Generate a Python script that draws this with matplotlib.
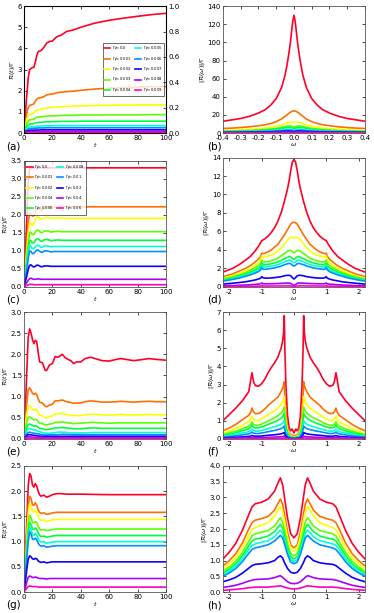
import matplotlib
matplotlib.use("Agg")
import matplotlib.pyplot as plt
import numpy as np

plt.rcParams["axes.unicode_minus"] = False

# colours of the ten curves (red -> magenta)
colors = plt.cm.gist_rainbow(np.linspace(0, 1, 10))

labels_a = ["0.0", "0.001", "0.002", "0.003", "0.004",
            "0.005", "0.006", "0.007", "0.008", "0.009"]
labels_c = ["0.0", "0.001", "0.002", "0.004", "0.006",
            "0.008", "0.01", "0.02", "0.04", "0.06"]

# ---------------- panel (a) : R(t)/Gamma ----------------
a_t = [0, 1, 2, 3, 4, 5, 6, 7, 8, 9, 10, 12, 14, 16, 18, 20, 23, 26, 30, 35,
       40, 50, 60, 70, 80, 90, 100]
a_vals = [
    [0, 0.9, 1.8, 2.6, 3.0, 3.05, 3.1, 3.1, 3.35, 3.65, 3.85, 3.9, 4.05, 4.25, 4.33, 4.35, 4.55, 4.62, 4.8, 4.88,
     5.0, 5.2, 5.33, 5.43, 5.52, 5.6, 5.66],
    [0, 0.5, 0.95, 1.2, 1.3, 1.33, 1.35, 1.38, 1.5, 1.6, 1.65, 1.67, 1.72, 1.8, 1.83, 1.84, 1.9, 1.93, 1.96, 1.98,
     2.02, 2.08, 2.12, 2.15, 2.17, 2.19, 2.2],
    [0, 0.35, 0.65, 0.82, 0.88, 0.9, 0.92, 0.95, 1.03, 1.08, 1.1, 1.12, 1.15, 1.18, 1.2, 1.21, 1.23, 1.24, 1.26, 1.27,
     1.28, 1.3, 1.31, 1.32, 1.33, 1.33, 1.34],
    [0, 0.25, 0.45, 0.57, 0.62, 0.63, 0.64, 0.66, 0.71, 0.74, 0.76, 0.77, 0.78, 0.8, 0.81, 0.81, 0.82, 0.83, 0.84, 0.84,
     0.85, 0.85, 0.86, 0.86, 0.86, 0.87, 0.87],
    [0, 0.17, 0.3, 0.38, 0.42, 0.43, 0.43, 0.44, 0.47, 0.49, 0.5, 0.51, 0.52, 0.53, 0.53, 0.54, 0.54, 0.55, 0.55, 0.55,
     0.56, 0.56, 0.56, 0.56, 0.56, 0.56, 0.56],
    [0, 0.11, 0.2, 0.25, 0.28, 0.29, 0.29, 0.3, 0.31, 0.32, 0.33, 0.33, 0.34, 0.34, 0.34, 0.35, 0.35, 0.35, 0.35, 0.35,
     0.35, 0.35, 0.35, 0.35, 0.35, 0.35, 0.35],
    [0, 0.08, 0.14, 0.18, 0.2, 0.21, 0.21, 0.22, 0.23, 0.23, 0.24, 0.24, 0.24, 0.25, 0.25, 0.25, 0.25, 0.25, 0.25, 0.25,
     0.25, 0.25, 0.25, 0.25, 0.25, 0.25, 0.25],
    [0, 0.05, 0.09, 0.11, 0.12, 0.13, 0.13, 0.13, 0.14, 0.14, 0.14, 0.15, 0.15, 0.15, 0.15, 0.15, 0.15, 0.15, 0.15, 0.15,
     0.15, 0.15, 0.15, 0.15, 0.15, 0.15, 0.15],
    [0, 0.03, 0.05, 0.06, 0.07, 0.07, 0.07, 0.07, 0.08, 0.08, 0.08, 0.08, 0.08, 0.08, 0.08, 0.08, 0.08, 0.08, 0.08, 0.08,
     0.08, 0.08, 0.08, 0.08, 0.08, 0.08, 0.08],
    [0, 0.01, 0.02, 0.03, 0.03, 0.03, 0.03, 0.03, 0.03, 0.03, 0.03, 0.03, 0.03, 0.03, 0.03, 0.03, 0.03, 0.03, 0.03, 0.03,
     0.03, 0.03, 0.03, 0.03, 0.03, 0.03, 0.03],
]

# ---------------- panel (b) : |R(w)|/Gamma (w >= 0 half, symmetric) ----------------
b_w = [0, 0.005, 0.01, 0.02, 0.03, 0.04, 0.05, 0.07, 0.1, 0.13, 0.16, 0.2, 0.25, 0.3, 0.35, 0.4]
b_vals = [
    [130, 125, 118, 100, 86, 74, 64, 50, 38, 31, 26, 22, 18.5, 16, 14.5, 13],
    [24.5, 24.3, 24, 23, 21.5, 20, 18.5, 15.5, 12.5, 10.5, 9.2, 8, 6.9, 6, 5.4, 5],
    [11.5, 11.8, 12, 12, 11.5, 11, 10.3, 9, 7.5, 6.5, 5.6, 4.8, 4.1, 3.6, 3.2, 2.9],
    [6.5, 6.8, 7.2, 7.8, 7.8, 7.5, 7.1, 6.3, 5.2, 4.5, 3.9, 3.3, 2.8, 2.5, 2.2, 2.0],
    [5.0, 5.3, 5.7, 6.2, 6.3, 6.1, 5.8, 5.1, 4.3, 3.7, 3.2, 2.8, 2.3, 2.0, 1.8, 1.6],
    [3.3, 3.5, 3.8, 4.2, 4.3, 4.2, 4.0, 3.6, 3.1, 2.7, 2.3, 2.0, 1.7, 1.5, 1.35, 1.2],
    [2.3, 2.4, 2.6, 2.9, 3.0, 2.9, 2.8, 2.5, 2.2, 1.9, 1.7, 1.5, 1.3, 1.1, 1.0, 0.9],
    [1.5, 1.6, 1.7, 1.9, 2.0, 1.95, 1.9, 1.7, 1.5, 1.3, 1.15, 1.0, 0.9, 0.8, 0.7, 0.6],
    [0.8, 0.85, 0.9, 1.0, 1.05, 1.0, 1.0, 0.9, 0.8, 0.7, 0.6, 0.55, 0.5, 0.45, 0.4, 0.35],
    [0.3, 0.32, 0.35, 0.4, 0.42, 0.4, 0.4, 0.36, 0.32, 0.28, 0.25, 0.22, 0.2, 0.18, 0.16, 0.15],
]

# ---------------- panel (c) ----------------
c_t = [0, 1, 2, 3, 4, 5, 6, 7, 8, 9, 10, 11, 12, 13, 14, 15, 17, 19, 21, 24, 27, 30, 40, 60, 80, 100]
c_vals = [
    [0, 0.9, 1.9, 2.9, 3.3, 3.3, 3.3, 3.3, 3.3, 3.3, 3.3, 3.3, 3.3, 3.3, 3.3, 3.3, 3.3, 3.3, 3.3, 3.3,
     3.3, 3.3, 3.3, 3.3, 3.3, 3.3],
    [0, 0.6, 1.2, 1.8, 2.05, 2.02, 1.96, 1.97, 2.08, 2.15, 2.17, 2.15, 2.12, 2.14, 2.18, 2.2, 2.22, 2.2, 2.21, 2.22,
     2.22, 2.22, 2.22, 2.22, 2.22, 2.22],
    [0, 0.5, 1.0, 1.5, 1.78, 1.75, 1.7, 1.75, 1.88, 1.94, 1.93, 1.9, 1.87, 1.88, 1.91, 1.92, 1.92, 1.9, 1.9, 1.91,
     1.9, 1.9, 1.9, 1.9, 1.9, 1.9],
    [0, 0.4, 0.8, 1.2, 1.52, 1.5, 1.45, 1.45, 1.52, 1.57, 1.57, 1.54, 1.5, 1.51, 1.54, 1.55, 1.55, 1.52, 1.53, 1.54,
     1.53, 1.53, 1.53, 1.53, 1.53, 1.53],
    [0, 0.33, 0.67, 1.0, 1.3, 1.28, 1.22, 1.22, 1.28, 1.33, 1.33, 1.3, 1.26, 1.27, 1.3, 1.31, 1.31, 1.28, 1.29, 1.3,
     1.29, 1.29, 1.29, 1.29, 1.29, 1.29],
    [0, 0.3, 0.6, 0.9, 1.14, 1.12, 1.06, 1.06, 1.11, 1.15, 1.15, 1.13, 1.09, 1.1, 1.13, 1.14, 1.13, 1.11, 1.12, 1.12,
     1.12, 1.12, 1.12, 1.12, 1.12, 1.12],
    [0, 0.25, 0.5, 0.78, 1.0, 0.98, 0.92, 0.93, 0.98, 1.02, 1.02, 0.99, 0.96, 0.96, 0.99, 1.0, 0.99, 0.97, 0.98, 0.98,
     0.98, 0.98, 0.98, 0.98, 0.98, 0.98],
    [0, 0.15, 0.3, 0.48, 0.6, 0.61, 0.57, 0.55, 0.57, 0.6, 0.6, 0.58, 0.56, 0.56, 0.58, 0.58, 0.58, 0.57, 0.57, 0.57,
     0.57, 0.57, 0.57, 0.57, 0.57, 0.57],
    [0, 0.06, 0.12, 0.18, 0.23, 0.24, 0.22, 0.21, 0.21, 0.22, 0.22, 0.22, 0.21, 0.21, 0.21, 0.21, 0.21, 0.21, 0.21, 0.21,
     0.21, 0.21, 0.21, 0.21, 0.21, 0.21],
    [0, 0.02, 0.04, 0.05, 0.07, 0.07, 0.07, 0.06, 0.06, 0.06, 0.06, 0.06, 0.06, 0.06, 0.06, 0.06, 0.06, 0.06, 0.06, 0.06,
     0.06, 0.06, 0.06, 0.06, 0.06, 0.06],
]

# ---------------- panel (d) (w >= 0 half) ----------------
d_w = [0, 0.05, 0.1, 0.15, 0.2, 0.3, 0.4, 0.5, 0.6, 0.7, 0.8, 0.9, 0.95, 1.0, 1.03, 1.1, 1.2, 1.35, 1.5, 1.7,
       1.9, 2.2]
d_vals = [
    [13.8, 13.5, 12.6, 11.5, 10.6, 9.2, 8.0, 7.1, 6.4, 5.9, 5.5, 5.2, 5.1, 5.0, 4.8, 4.4, 3.9, 3.3, 2.9, 2.4, 2.0, 1.6],
    [7.0, 6.95, 6.8, 6.5, 6.2, 5.6, 5.1, 4.6, 4.3, 4.0, 3.8, 3.65, 3.6, 3.65, 3.3, 3.0, 2.7, 2.3, 2.0, 1.7, 1.4, 1.1],
    [5.3, 5.35, 5.35, 5.3, 5.1, 4.6, 4.2, 3.9, 3.6, 3.45, 3.35, 3.25, 3.2, 3.35, 2.9, 2.6, 2.35, 2.0, 1.75, 1.45, 1.2, 0.95],
    [3.7, 3.8, 3.95, 3.95, 3.85, 3.6, 3.35, 3.1, 2.95, 2.85, 2.75, 2.7, 2.7, 2.9, 2.55, 2.3, 2.1, 1.8, 1.55, 1.3, 1.1, 0.85],
    [3.0, 3.1, 3.25, 3.3, 3.2, 3.05, 2.85, 2.7, 2.6, 2.5, 2.45, 2.4, 2.4, 2.6, 2.3, 2.05, 1.85, 1.6, 1.4, 1.15, 0.95, 0.75],
    [2.6, 2.7, 2.85, 2.9, 2.85, 2.7, 2.55, 2.4, 2.3, 2.25, 2.2, 2.15, 2.15, 2.35, 2.05, 1.85, 1.65, 1.45, 1.25, 1.05, 0.85, 0.68],
    [2.25, 2.35, 2.5, 2.55, 2.5, 2.4, 2.25, 2.15, 2.05, 2.0, 1.95, 1.9, 1.9, 2.1, 1.85, 1.65, 1.5, 1.3, 1.15, 0.95, 0.8, 0.62],
    [0.85, 1.0, 1.2, 1.25, 1.25, 1.2, 1.1, 1.05, 1.0, 0.97, 0.95, 0.95, 0.98, 1.1, 0.95, 0.85, 0.75, 0.65, 0.55, 0.47, 0.4, 0.3],
    [0.15, 0.25, 0.38, 0.42, 0.42, 0.4, 0.38, 0.36, 0.35, 0.34, 0.33, 0.33, 0.35, 0.42, 0.33, 0.3, 0.27, 0.23, 0.2, 0.17, 0.14, 0.12],
    [0.05, 0.07, 0.1, 0.11, 0.11, 0.11, 0.1, 0.1, 0.1, 0.1, 0.09, 0.09, 0.1, 0.11, 0.09, 0.08, 0.07, 0.06, 0.06, 0.05, 0.04, 0.04],
]

# ---------------- panel (e) ----------------
e_t = [0, 1, 2, 3, 4, 5, 6, 7, 8, 9, 10, 11, 13, 15, 16, 18, 20, 22, 24, 27,
       29, 31, 33, 35, 37, 40, 43, 47, 50, 55, 60, 65, 68, 72, 77, 82, 88, 93, 100]
e_t_low = [0, 1, 2, 3, 4, 6, 8, 10, 13, 16, 20, 24, 27, 35, 50, 100]
e_vals = [
    [0, 0.7, 1.6, 2.4, 2.6, 2.5, 2.35, 2.25, 2.33, 2.3, 2.05, 1.82, 1.8, 1.62, 1.62, 1.75, 1.78, 1.95, 1.93, 2.0,
     1.92, 1.88, 1.85, 1.78, 1.82, 1.82, 1.9, 1.93, 1.9, 1.85, 1.84, 1.88, 1.9, 1.88, 1.85, 1.87, 1.9, 1.88, 1.86],
    [0, 0.4, 0.85, 1.15, 1.21, 1.15, 1.08, 1.05, 1.08, 1.05, 0.95, 0.87, 0.85, 0.77, 0.76, 0.8, 0.82, 0.9, 0.9, 0.92,
     0.89, 0.87, 0.86, 0.84, 0.85, 0.85, 0.88, 0.9, 0.89, 0.87, 0.87, 0.88, 0.89, 0.88, 0.87, 0.88, 0.89, 0.88, 0.88],
    [0, 0.3, 0.6, 0.75, 0.79, 0.75, 0.7, 0.68, 0.7, 0.68, 0.62, 0.56, 0.55, 0.5, 0.5, 0.53, 0.54, 0.59, 0.59, 0.6,
     0.58, 0.57, 0.56, 0.55, 0.55, 0.55, 0.57, 0.58, 0.58, 0.57, 0.56, 0.57, 0.58, 0.57, 0.57, 0.57, 0.58, 0.57, 0.57],
    [0, 0.2, 0.4, 0.5, 0.52, 0.5, 0.47, 0.45, 0.46, 0.45, 0.41, 0.37, 0.36, 0.33, 0.33, 0.35, 0.36, 0.39, 0.39, 0.4,
     0.39, 0.38, 0.37, 0.36, 0.37, 0.37, 0.38, 0.39, 0.39, 0.38, 0.37, 0.38, 0.38, 0.38, 0.38, 0.38, 0.38, 0.38, 0.38],
    [0, 0.14, 0.27, 0.34, 0.35, 0.34, 0.32, 0.3, 0.31, 0.3, 0.28, 0.25, 0.24, 0.22, 0.22, 0.23, 0.24, 0.26, 0.26, 0.27,
     0.26, 0.25, 0.25, 0.24, 0.24, 0.24, 0.25, 0.26, 0.26, 0.25, 0.25, 0.25, 0.25, 0.25, 0.25, 0.25, 0.25, 0.25, 0.25],
    [0, 0.1, 0.19, 0.24, 0.25, 0.22, 0.21, 0.18, 0.15, 0.13, 0.14, 0.16, 0.16, 0.14, 0.15, 0.15],
    [0, 0.06, 0.12, 0.15, 0.16, 0.14, 0.13, 0.12, 0.1, 0.09, 0.1, 0.1, 0.11, 0.1, 0.1, 0.1],
    [0, 0.04, 0.08, 0.1, 0.1, 0.09, 0.08, 0.07, 0.06, 0.06, 0.06, 0.06, 0.06, 0.06, 0.06, 0.06],
    [0, 0.02, 0.04, 0.05, 0.05, 0.04, 0.04, 0.04, 0.03, 0.03, 0.03, 0.03, 0.03, 0.03, 0.03, 0.03],
    [0, 0.01, 0.02, 0.02, 0.02, 0.02, 0.02, 0.01, 0.01, 0.01, 0.01, 0.01, 0.01, 0.01, 0.01, 0.01],
]

# ---------------- panel (f) (w >= 0 half) ----------------
f_w = [0, 0.03, 0.06, 0.1, 0.15, 0.2, 0.25, 0.28, 0.3, 0.32, 0.35, 0.4, 0.5, 0.6, 0.7, 0.8, 0.9, 1.0, 1.1, 1.2,
       1.25, 1.3, 1.33, 1.4, 1.5, 1.6, 1.8, 2.0, 2.2]
f_vals = [
    [0.33, 0.45, 0.55, 0.45, 0.6, 1.3, 3.0, 4.8, 6.8, 5.9, 5.4, 5.0, 4.5, 4.2, 3.95, 3.65, 3.3, 3.05, 2.9, 2.95,
     3.15, 3.65, 3.35, 2.6, 2.35, 2.1, 1.7, 1.35, 1.0],
    [0.15, 0.17, 0.2, 0.22, 0.35, 0.7, 1.4, 2.2, 3.15, 2.95, 2.8, 2.6, 2.3, 2.15, 2.0, 1.85, 1.65, 1.5, 1.4, 1.4,
     1.48, 1.7, 1.5, 1.3, 1.18, 1.05, 0.8, 0.6, 0.45],
    [0.1, 0.12, 0.14, 0.16, 0.25, 0.5, 1.0, 1.6, 2.35, 2.2, 2.05, 1.9, 1.7, 1.55, 1.45, 1.35, 1.2, 1.1, 1.02, 1.02,
     1.08, 1.25, 1.1, 0.95, 0.85, 0.75, 0.58, 0.44, 0.32],
    [0.07, 0.08, 0.1, 0.12, 0.18, 0.37, 0.75, 1.2, 1.75, 1.65, 1.55, 1.42, 1.28, 1.17, 1.08, 1.0, 0.9, 0.82, 0.76, 0.76,
     0.8, 0.95, 0.82, 0.7, 0.63, 0.56, 0.43, 0.33, 0.24],
    [0.06, 0.07, 0.08, 0.1, 0.15, 0.3, 0.6, 0.95, 1.4, 1.32, 1.24, 1.14, 1.02, 0.94, 0.86, 0.8, 0.72, 0.66, 0.61, 0.61,
     0.64, 0.78, 0.66, 0.56, 0.5, 0.45, 0.34, 0.26, 0.19],
    [0.04, 0.05, 0.06, 0.07, 0.1, 0.21, 0.43, 0.68, 1.0, 0.94, 0.88, 0.81, 0.73, 0.67, 0.62, 0.57, 0.51, 0.47, 0.43, 0.43,
     0.46, 0.55, 0.47, 0.4, 0.36, 0.32, 0.25, 0.19, 0.14],
    [0.03, 0.03, 0.04, 0.05, 0.07, 0.15, 0.3, 0.48, 0.7, 0.66, 0.62, 0.57, 0.51, 0.47, 0.43, 0.4, 0.36, 0.33, 0.3, 0.3,
     0.32, 0.38, 0.33, 0.28, 0.25, 0.22, 0.17, 0.13, 0.1],
    [0.02, 0.02, 0.02, 0.03, 0.04, 0.08, 0.15, 0.24, 0.35, 0.33, 0.31, 0.28, 0.25, 0.23, 0.21, 0.2, 0.18, 0.16, 0.15, 0.15,
     0.16, 0.19, 0.16, 0.14, 0.12, 0.11, 0.09, 0.07, 0.05],
    [0.01, 0.01, 0.01, 0.01, 0.02, 0.03, 0.06, 0.1, 0.15, 0.14, 0.13, 0.12, 0.11, 0.1, 0.09, 0.09, 0.08, 0.07, 0.06, 0.06,
     0.07, 0.08, 0.07, 0.06, 0.05, 0.05, 0.04, 0.03, 0.02],
    [0.0, 0.0, 0.0, 0.0, 0.01, 0.01, 0.02, 0.03, 0.05, 0.05, 0.04, 0.04, 0.04, 0.03, 0.03, 0.03, 0.03, 0.02, 0.02, 0.02,
     0.02, 0.03, 0.02, 0.02, 0.02, 0.02, 0.01, 0.01, 0.01],
]

# ---------------- panel (g) ----------------
g_t = [0, 1, 2, 3, 4, 5, 6, 7, 8, 9, 10, 11, 12, 14, 16, 18, 20, 23, 26, 30, 40, 60, 80, 100]
g_vals = [
    [0, 0.6, 1.4, 2.1, 2.35, 2.3, 2.12, 2.08, 2.15, 2.1, 2.0, 1.93, 1.9, 1.92, 1.88, 1.9, 1.93, 1.95, 1.95, 1.94,
     1.94, 1.93, 1.93, 1.93],
    [0, 0.5, 1.15, 1.7, 1.9, 1.85, 1.73, 1.72, 1.77, 1.72, 1.63, 1.58, 1.56, 1.57, 1.54, 1.55, 1.57, 1.58, 1.58, 1.58,
     1.58, 1.58, 1.58, 1.58],
    [0, 0.45, 1.05, 1.55, 1.75, 1.7, 1.6, 1.58, 1.62, 1.58, 1.5, 1.45, 1.42, 1.43, 1.4, 1.41, 1.43, 1.44, 1.44, 1.44,
     1.44, 1.44, 1.44, 1.44],
    [0, 0.4, 0.9, 1.35, 1.52, 1.48, 1.38, 1.37, 1.4, 1.37, 1.3, 1.26, 1.23, 1.24, 1.22, 1.23, 1.24, 1.25, 1.25, 1.25,
     1.25, 1.25, 1.25, 1.25],
    [0, 0.35, 0.8, 1.2, 1.38, 1.34, 1.25, 1.24, 1.27, 1.24, 1.17, 1.13, 1.1, 1.11, 1.09, 1.1, 1.11, 1.12, 1.12, 1.12,
     1.12, 1.12, 1.12, 1.12],
    [0, 0.32, 0.72, 1.08, 1.28, 1.24, 1.14, 1.12, 1.16, 1.13, 1.06, 1.01, 0.99, 1.0, 0.97, 0.98, 0.99, 1.0, 1.0, 1.0,
     1.0, 1.0, 1.0, 1.0],
    [0, 0.3, 0.68, 1.0, 1.2, 1.15, 1.05, 1.04, 1.07, 1.04, 0.97, 0.93, 0.91, 0.92, 0.89, 0.9, 0.91, 0.92, 0.92, 0.92,
     0.92, 0.92, 0.92, 0.92],
    [0, 0.2, 0.45, 0.65, 0.72, 0.7, 0.66, 0.65, 0.67, 0.66, 0.62, 0.6, 0.59, 0.6, 0.58, 0.59, 0.6, 0.6, 0.6, 0.6,
     0.6, 0.6, 0.6, 0.6],
    [0, 0.09, 0.2, 0.29, 0.32, 0.31, 0.29, 0.29, 0.3, 0.29, 0.28, 0.27, 0.27, 0.27, 0.26, 0.27, 0.27, 0.27, 0.27, 0.27,
     0.27, 0.27, 0.27, 0.27],
    [0, 0.04, 0.08, 0.11, 0.12, 0.12, 0.11, 0.11, 0.11, 0.11, 0.1, 0.1, 0.1, 0.1, 0.1, 0.1, 0.1, 0.1, 0.1, 0.1,
     0.1, 0.1, 0.1, 0.1],
]

# ---------------- panel (h) (w >= 0 half) ----------------
h_w = [0, 0.1, 0.2, 0.3, 0.35, 0.42, 0.5, 0.6, 0.8, 1.0, 1.2, 1.3, 1.4, 1.6, 1.8, 2.0, 2.2]
h_vals = [
    [1.72, 1.85, 2.35, 3.05, 3.4, 3.62, 3.45, 3.2, 2.95, 2.85, 2.8, 2.7, 2.45, 1.95, 1.55, 1.27, 1.05],
    [1.4, 1.5, 1.9, 2.5, 2.78, 2.95, 2.8, 2.6, 2.4, 2.33, 2.28, 2.2, 2.0, 1.55, 1.22, 1.0, 0.83],
    [1.3, 1.38, 1.75, 2.3, 2.55, 2.72, 2.6, 2.42, 2.2, 2.12, 2.05, 1.98, 1.8, 1.4, 1.1, 0.9, 0.74],
    [1.15, 1.22, 1.52, 2.0, 2.22, 2.36, 2.25, 2.1, 1.95, 1.9, 1.85, 1.78, 1.6, 1.25, 0.98, 0.8, 0.66],
    [1.05, 1.12, 1.4, 1.82, 2.02, 2.15, 2.05, 1.92, 1.78, 1.72, 1.68, 1.62, 1.47, 1.15, 0.9, 0.73, 0.6],
    [0.97, 1.03, 1.3, 1.68, 1.86, 1.96, 1.88, 1.76, 1.63, 1.58, 1.53, 1.48, 1.35, 1.05, 0.82, 0.67, 0.55],
    [0.9, 0.95, 1.2, 1.55, 1.72, 1.8, 1.72, 1.62, 1.5, 1.45, 1.4, 1.35, 1.23, 0.96, 0.75, 0.61, 0.5],
    [0.6, 0.63, 0.75, 0.95, 1.08, 1.15, 1.1, 1.0, 0.93, 0.9, 0.88, 0.84, 0.76, 0.6, 0.47, 0.39, 0.33],
    [0.27, 0.28, 0.33, 0.42, 0.47, 0.52, 0.5, 0.46, 0.42, 0.41, 0.4, 0.38, 0.35, 0.28, 0.22, 0.18, 0.15],
    [0.1, 0.11, 0.13, 0.16, 0.18, 0.2, 0.19, 0.18, 0.16, 0.16, 0.16, 0.15, 0.14, 0.11, 0.09, 0.07, 0.06],
]


def mirror(half_x, half_y):
    hx = np.asarray(half_x, float)
    hy = np.asarray(half_y, float)
    return np.concatenate([-hx[::-1], hx[1:]]), np.concatenate([hy[::-1], hy[1:]])


fig = plt.figure(figsize=(3.74, 6.13), dpi=100)

lx, rx, aw = 0.064, 0.596, 0.380
rows = [(0.783, 0.207), (0.532, 0.206), (0.284, 0.207), (0.034, 0.206)]
lw = 1.2
fs = 5
lab_fs = 7.5
lab_xl, lab_xr = 0.016, 0.553
lab_y = [0.761, 0.511, 0.264, 0.013]


def style(ax):
    ax.tick_params(direction="in", top=True, right=True, labelsize=fs, length=2.5, width=0.5, pad=1.5)
    for s in ax.spines.values():
        s.set_linewidth(0.6)
        s.set_color("#555555")


def time_axes(ax):
    ax.set_xlim(0, 100)
    ax.set_xticks([0, 20, 40, 60, 80, 100])
    ax.set_xlabel(r"$t$", fontsize=4.5, labelpad=0)
    ax.set_ylabel(r"$\mathcal{R}(t)/\Gamma$", fontsize=4.5, labelpad=0.5)
    style(ax)


def freq_panel(ax, w, vals):
    for i, v in enumerate(vals):
        x, y = mirror(w, v)
        ax.plot(x, y, color=colors[i], lw=lw)
    ax.set_xlabel(r"$\omega$", fontsize=4.5, labelpad=0)
    ax.set_ylabel(r"$|\mathcal{R}(\omega)|/\Gamma$", fontsize=4.5, labelpad=0.5)
    style(ax)


leg_kw = dict(ncol=2, fontsize=2.7, handlelength=1.7, columnspacing=0.8, labelspacing=0.4,
              borderpad=0.4, handletextpad=0.5, frameon=True, fancybox=False, edgecolor="black")

# (a)
ax = fig.add_axes([lx, rows[0][0], aw, rows[0][1]])
for i, v in enumerate(a_vals):
    ax.plot(a_t, v, color=colors[i], lw=lw, label=r"$\Gamma_\phi$=" + labels_a[i])
time_axes(ax)
ax.set_ylim(0, 6)
ax.tick_params(right=False)
ax.legend(loc="center right", bbox_to_anchor=(1.0, 0.5), **leg_kw).get_frame().set_linewidth(0.5)
ax2 = ax.twinx()
ax2.set_ylim(0, 1.0)
ax2.set_yticks([0.0, 0.2, 0.4, 0.6, 0.8, 1.0])
ax2.tick_params(direction="in", labelsize=fs, length=2.5, width=0.5, pad=1.5)
fig.text(lab_xl, lab_y[0], "(a)", fontsize=lab_fs, va="center")

# (b)
ax = fig.add_axes([rx, rows[0][0], aw, rows[0][1]])
freq_panel(ax, b_w, b_vals)
ax.set_xlim(-0.4, 0.4)
ax.set_ylim(0, 140)
ax.set_xticks([-0.4, -0.3, -0.2, -0.1, 0.0, 0.1, 0.2, 0.3, 0.4])
fig.text(lab_xr, lab_y[0], "(b)", fontsize=lab_fs, va="center")

# (c)
ax = fig.add_axes([lx, rows[1][0], aw, rows[1][1]])
for i, v in enumerate(c_vals):
    ax.plot(c_t, v, color=colors[i], lw=lw, label=r"$\Gamma_\phi$=" + labels_c[i])
time_axes(ax)
ax.set_ylim(0, 3.5)
ax.legend(loc="upper left", bbox_to_anchor=(0.0, 1.0), borderaxespad=0.2, **leg_kw).get_frame().set_linewidth(0.5)
fig.text(lab_xl, lab_y[1], "(c)", fontsize=lab_fs, va="center")

# (d)
ax = fig.add_axes([rx, rows[1][0], aw, rows[1][1] + 0.005])
freq_panel(ax, d_w, d_vals)
ax.set_xlim(-2.2, 2.2)
ax.set_ylim(0, 14)
ax.set_xticks([-2, -1, 0, 1, 2])
fig.text(lab_xr, lab_y[1], "(d)", fontsize=lab_fs, va="center")

# (e)
ax = fig.add_axes([lx, rows[2][0], aw, rows[2][1]])
for i, v in enumerate(e_vals):
    x = e_t if len(v) == len(e_t) else e_t_low
    ax.plot(x, v, color=colors[i], lw=lw)
time_axes(ax)
ax.set_ylim(0, 3.0)
fig.text(lab_xl, lab_y[2], "(e)", fontsize=lab_fs, va="center")

# (f)
ax = fig.add_axes([rx, rows[2][0], aw, rows[2][1]])
freq_panel(ax, f_w, f_vals)
ax.set_xlim(-2.2, 2.2)
ax.set_ylim(0, 7)
ax.set_xticks([-2, -1, 0, 1, 2])
fig.text(lab_xr, lab_y[2], "(f)", fontsize=lab_fs, va="center")

# (g)
ax = fig.add_axes([lx, rows[3][0], aw, rows[3][1]])
for i, v in enumerate(g_vals):
    ax.plot(g_t, v, color=colors[i], lw=lw)
time_axes(ax)
ax.set_ylim(0, 2.5)
fig.text(lab_xl, lab_y[3], "(g)", fontsize=lab_fs, va="center")

# (h)
ax = fig.add_axes([rx, rows[3][0], aw, rows[3][1]])
freq_panel(ax, h_w, h_vals)
ax.set_xlim(-2.2, 2.2)
ax.set_ylim(0, 4.0)
ax.set_xticks([-2, -1, 0, 1, 2])
fig.text(lab_xr, lab_y[3], "(h)", fontsize=lab_fs, va="center")

fig.savefig("out.png", dpi=100)
